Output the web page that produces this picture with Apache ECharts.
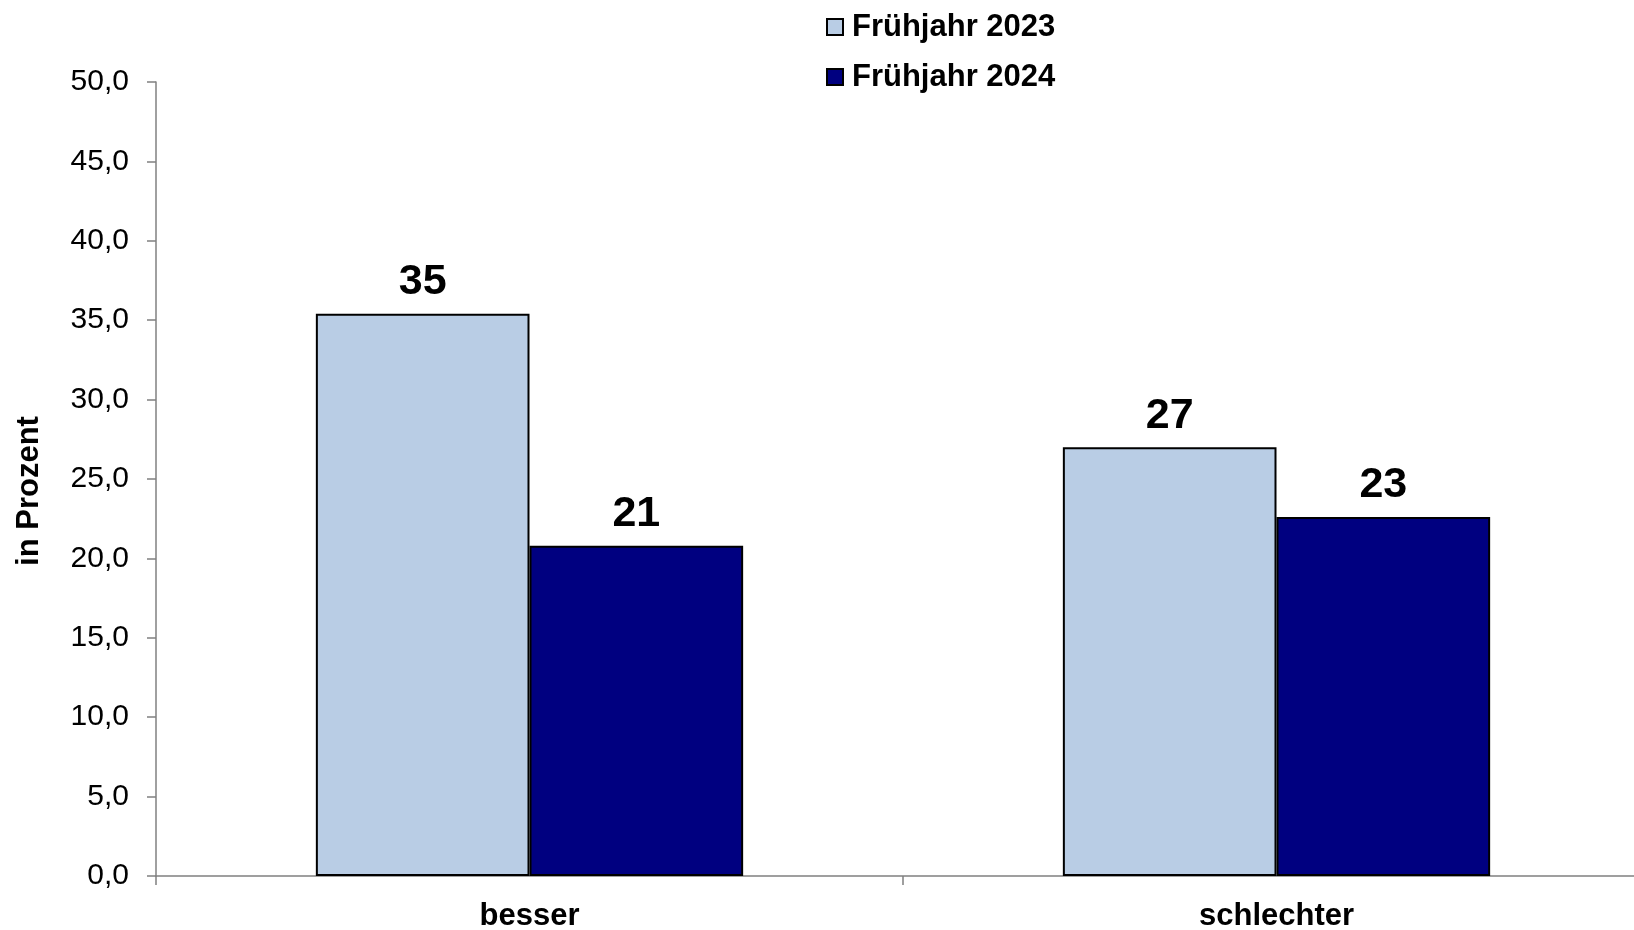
<!DOCTYPE html>
<html>
<head>
<meta charset="utf-8">
<script src="https://cdn.jsdelivr.net/npm/echarts@6/dist/echarts.min.js"></script>
<style>
html,body{margin:0;padding:0;background:#fff;}
#chart{width:1634px;height:930px;}
</style>
</head>
<body>
<div id="chart"></div>
<script>
var categories = ['besser', 'schlechter'];
var seriesNames = ['Frühjahr 2023', 'Frühjahr 2024'];
var values2023 = [35.4, 27.0];
var values2024 = [20.8, 22.6];
var yTicks = [0, 5, 10, 15, 20, 25, 30, 35, 40, 45, 50];

var FONT = 'Liberation Sans, Arial, sans-serif';
var chart = echarts.init(document.getElementById('chart'), null, {renderer: 'canvas'});

function barSeries(name, data, color) {
  return {
    name: name,
    type: 'bar',
    data: data,
    barGap: '0%',
    barCategoryGap: '42.8%',
    itemStyle: {color: color, borderColor: '#000', borderWidth: 2},
    label: {
      show: true,
      position: 'top',
      distance: 10,
      formatter: function (p) { return String(Math.round(p.value)); },
      fontFamily: FONT,
      fontWeight: 'bold',
      fontSize: 43,
      color: '#000'
    },
    emphasis: {disabled: true},
    animation: false
  };
}

chart.setOption({
  backgroundColor: '#fff',
  animation: false,
  legend: {
    orient: 'vertical',
    left: 821,
    top: 5,
    itemWidth: 16,
    itemHeight: 16,
    itemGap: 16,
    icon: 'rect',
    data: seriesNames,
    textStyle: {fontFamily: FONT, fontWeight: 'bold', fontSize: 31, color: '#000', lineHeight: 34, padding: [0, 0, 0, 4]}
  },
  grid: {left: 156, top: 82, width: 1494, bottom: 54, containLabel: false, outerBoundsMode: 'none'},
  xAxis: {
    type: 'category',
    data: categories,
    axisLine: {lineStyle: {color: '#808080', width: 1.5}},
    axisTick: {show: true, length: 9, lineStyle: {color: '#808080', width: 1.5}},
    axisLabel: {fontFamily: FONT, fontWeight: 'bold', fontSize: 31, color: '#000', margin: 25}
  },
  yAxis: {
    type: 'value',
    min: yTicks[0],
    max: yTicks[yTicks.length - 1],
    interval: yTicks[1] - yTicks[0],
    name: 'in Prozent',
    nameLocation: 'middle',
    nameGap: 111,
    nameRotate: 90,
    nameTextStyle: {fontFamily: FONT, fontWeight: 'bold', fontSize: 31, color: '#000', padding: [0, 24, 0, 0]},
    splitLine: {show: false},
    axisLine: {show: true, lineStyle: {color: '#808080', width: 1.5}},
    axisTick: {show: true, length: 9, lineStyle: {color: '#808080', width: 1.5}},
    axisLabel: {
      fontFamily: FONT, fontSize: 30, color: '#000', margin: 27,
      formatter: function (v) { return v.toFixed(1).replace('.', ','); }
    }
  },
  series: [
    barSeries(seriesNames[0], values2023, '#B9CDE5'),
    barSeries(seriesNames[1], values2024, '#000080')
  ]
});
</script>
</body>
</html>
